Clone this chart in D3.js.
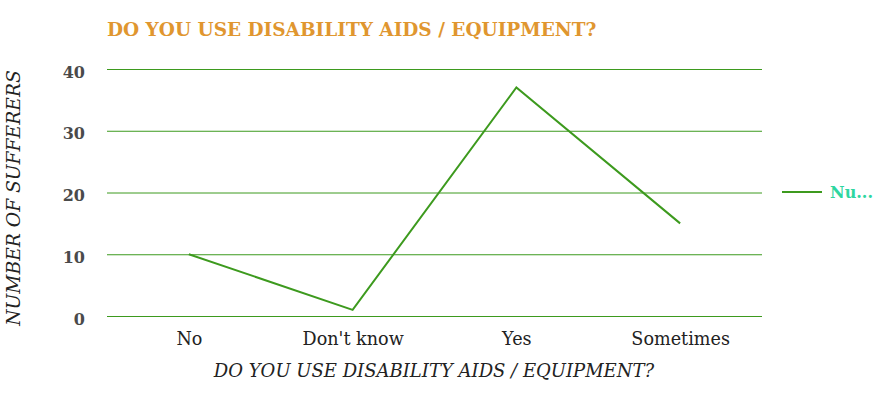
<!DOCTYPE html>
<html><head><meta charset="utf-8">
<script src="https://cdn.jsdelivr.net/npm/d3@7"></script>
<style>body{margin:0;background:#fff}svg{display:block}</style>
</head><body><svg id="c" width="885" height="394"></svg>
<script>
const categories = ["No", "Don't know", "Yes", "Sometimes"];
const values = [10, 1, 37, 15];
const yTicks = [0, 10, 20, 30, 40];
const seriesName = "Number of sufferers";
const legendLabel = "Nu...";
const title = "DO YOU USE DISABILITY AIDS / EQUIPMENT?";
const xTitle = "DO YOU USE DISABILITY AIDS / EQUIPMENT?";
const yTitle = "NUMBER OF SUFFERERS";

const svg = d3.select("#c");
const m = {l:107, r:123, t:69, b:78};
const W = 885, H = 394;
const x = d3.scalePoint().domain(categories).range([m.l, W - m.r]).padding(0.5);
const y = d3.scaleLinear().domain([0, 40]).range([H - m.b, m.t]);
const green = "#3d9a1e";
const serif = '"DejaVu Serif", "Noto Serif", serif';

svg.append("text").attr("x", 107).attr("y", 36).text(title)
  .style("font-family", serif).style("font-weight", "bold").style("font-size", "18.5px")
  .attr("fill", "#e0962f");

const gy = svg.append("g").attr("transform", `translate(${m.l},0)`)
  .call(d3.axisLeft(y).tickValues(yTicks).tickSize(-(W - m.l - m.r)).tickPadding(22));
gy.select(".domain").remove();
gy.selectAll(".tick line").attr("stroke", green).attr("stroke-width", 1);
gy.selectAll(".tick text").style("font-family", serif).style("font-size", "16px")
  .style("font-weight", "600").attr("fill", "#4a4a4a").attr("dy", "0.5em");

const gx = svg.append("g").attr("transform", `translate(0,${H - m.b})`)
  .call(d3.axisBottom(x).tickSize(0).tickPadding(17));
gx.select(".domain").remove();
gx.selectAll(".tick text").style("font-family", serif).style("font-size", "17.6px")
  .attr("fill", "#222");

svg.append("path").datum(values)
  .attr("d", d3.line().x((d, i) => x(categories[i])).y(d => y(d)))
  .attr("fill", "none").attr("stroke", green).attr("stroke-width", 2);

svg.append("text").attr("x", 434).attr("y", 377).attr("text-anchor", "middle").text(xTitle)
  .style("font-family", serif).style("font-style", "italic").style("font-size", "18px")
  .attr("fill", "#222");

svg.append("text").attr("transform", "translate(20,198) rotate(-90)").attr("text-anchor", "middle")
  .text(yTitle).style("font-family", serif).style("font-style", "italic")
  .style("font-size", "18.7px").attr("fill", "#222");

const lg = svg.append("g");
lg.append("line").attr("x1", 782).attr("x2", 822).attr("y1", 192).attr("y2", 192)
  .attr("stroke", green).attr("stroke-width", 2);
lg.append("text").attr("x", 830).attr("y", 198).text(legendLabel)
  .style("font-family", serif).style("font-weight", "bold").style("font-size", "16px").attr("fill", "#2ed6a0");
</script></body></html>
